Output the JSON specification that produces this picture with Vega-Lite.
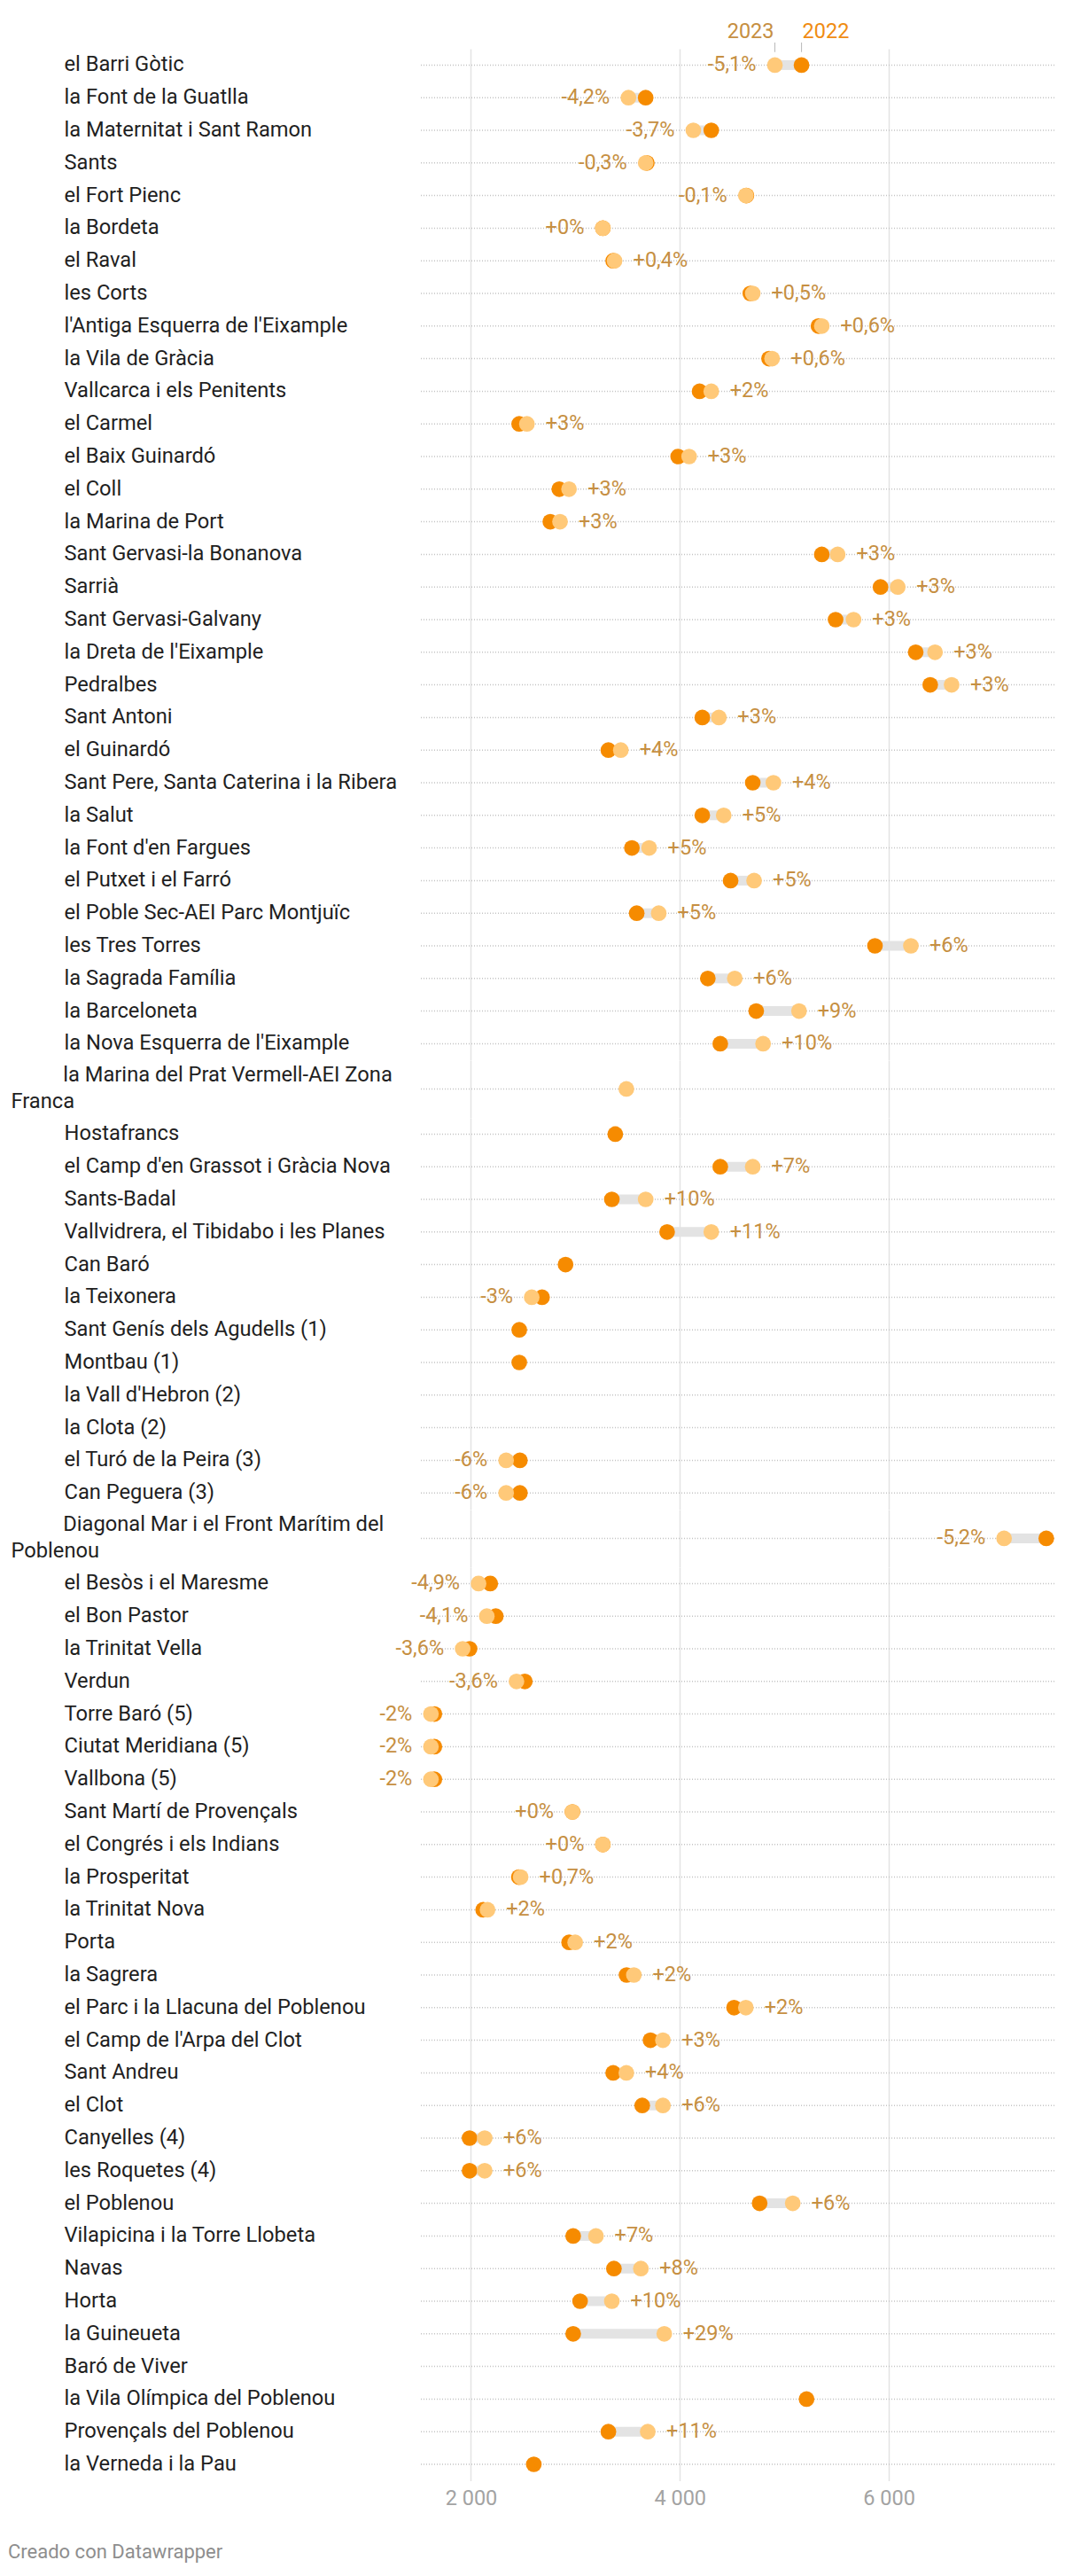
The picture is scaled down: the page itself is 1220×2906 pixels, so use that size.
{
  "$schema": "https://vega.github.io/schema/vega-lite/v6.json",
  "padding": {"left": 9, "top": 24, "right": 24, "bottom": 14},
  "spacing": 0,
  "background": "#ffffff",
  "title": {"text": "Creado con Datawrapper", "orient": "bottom", "anchor": "start", "fontSize": 22, "font": "Roboto", "fontWeight": "normal", "color": "#8e8e8e", "offset": 39, "dx": -3},
  "resolve": {"scale": {"x": "independent", "y": "independent"}},
  "datasets": {
    "A": [
      {"barrio": "el Barri Gòtic", "v2022": 5165, "v2023": 4910, "cambio": "-5,1%"},
      {"barrio": "la Font de la Guatlla", "v2022": 3673, "v2023": 3508, "cambio": "-4,2%"},
      {"barrio": "la Maternitat i Sant Ramon", "v2022": 4301, "v2023": 4129, "cambio": "-3,7%"},
      {"barrio": "Sants", "v2022": 3684, "v2023": 3673, "cambio": "-0,3%"},
      {"barrio": "el Fort Pienc", "v2022": 4637, "v2023": 4632, "cambio": "-0,1%"},
      {"barrio": "la Bordeta", "v2022": 3263, "v2023": 3263, "cambio": "+0%"},
      {"barrio": "el Raval", "v2022": 3362, "v2023": 3375, "cambio": "+0,4%"},
      {"barrio": "les Corts", "v2022": 4675, "v2023": 4698, "cambio": "+0,5%"},
      {"barrio": "l'Antiga Esquerra de l'Eixample", "v2022": 5327, "v2023": 5359, "cambio": "+0,6%"},
      {"barrio": "la Vila de Gràcia", "v2022": 4854, "v2023": 4883, "cambio": "+0,6%"},
      {"barrio": "Vallcarca i els Penitents", "v2022": 4189, "v2023": 4301, "cambio": "+2%"},
      {"barrio": "el Carmel", "v2022": 2462, "v2023": 2536, "cambio": "+3%"},
      {"barrio": "el Baix Guinardó", "v2022": 3984, "v2023": 4089, "cambio": "+3%"},
      {"barrio": "el Coll", "v2022": 2846, "v2023": 2939, "cambio": "+3%"},
      {"barrio": "la Marina de Port", "v2022": 2760, "v2023": 2853, "cambio": "+3%"},
      {"barrio": "Sant Gervasi-la Bonanova", "v2022": 5359, "v2023": 5511, "cambio": "+3%"},
      {"barrio": "Sarrià", "v2022": 5921, "v2023": 6086, "cambio": "+3%"},
      {"barrio": "Sant Gervasi-Galvany", "v2022": 5491, "v2023": 5663, "cambio": "+3%"},
      {"barrio": "la Dreta de l'Eixample", "v2022": 6258, "v2023": 6443, "cambio": "+3%"},
      {"barrio": "Pedralbes", "v2022": 6397, "v2023": 6602, "cambio": "+3%"},
      {"barrio": "Sant Antoni", "v2022": 4215, "v2023": 4374, "cambio": "+3%"},
      {"barrio": "el Guinardó", "v2022": 3316, "v2023": 3435, "cambio": "+4%"},
      {"barrio": "Sant Pere, Santa Caterina i la Ribera", "v2022": 4698, "v2023": 4896, "cambio": "+4%"},
      {"barrio": "la Salut", "v2022": 4215, "v2023": 4420, "cambio": "+5%"},
      {"barrio": "la Font d'en Fargues", "v2022": 3541, "v2023": 3706, "cambio": "+5%"},
      {"barrio": "el Putxet i el Farró", "v2022": 4486, "v2023": 4711, "cambio": "+5%"},
      {"barrio": "el Poble Sec-AEI Parc Montjuïc", "v2022": 3587, "v2023": 3798, "cambio": "+5%"},
      {"barrio": "les Tres Torres", "v2022": 5868, "v2023": 6212, "cambio": "+6%"},
      {"barrio": "la Sagrada Família", "v2022": 4268, "v2023": 4526, "cambio": "+6%"},
      {"barrio": "la Barceloneta", "v2022": 4731, "v2023": 5141, "cambio": "+9%"},
      {"barrio": "la Nova Esquerra de l'Eixample", "v2022": 4387, "v2023": 4797, "cambio": "+10%"}
    ],
    "B": [
      {"barrio": "la Marina del Prat Vermell-AEI Zona Franca", "v2022": null, "v2023": 3488, "cambio": null}
    ],
    "C": [
      {"barrio": "Hostafrancs", "v2022": 3382, "v2023": null, "cambio": null},
      {"barrio": "el Camp d'en Grassot i Gràcia Nova", "v2022": 4387, "v2023": 4698, "cambio": "+7%"},
      {"barrio": "Sants-Badal", "v2022": 3349, "v2023": 3673, "cambio": "+10%"},
      {"barrio": "Vallvidrera, el Tibidabo i les Planes", "v2022": 3878, "v2023": 4301, "cambio": "+11%"},
      {"barrio": "Can Baró", "v2022": 2906, "v2023": null, "cambio": null},
      {"barrio": "la Teixonera", "v2022": 2681, "v2023": 2582, "cambio": "-3%"},
      {"barrio": "Sant Genís dels Agudells (1)", "v2022": 2463, "v2023": null, "cambio": null},
      {"barrio": "Montbau (1)", "v2022": 2463, "v2023": null, "cambio": null},
      {"barrio": "la Vall d'Hebron (2)", "v2022": null, "v2023": null, "cambio": null},
      {"barrio": "la Clota (2)", "v2022": null, "v2023": null, "cambio": null},
      {"barrio": "el Turó de la Peira (3)", "v2022": 2469, "v2023": 2337, "cambio": "-6%"},
      {"barrio": "Can Peguera (3)", "v2022": 2469, "v2023": 2337, "cambio": "-6%"}
    ],
    "D": [
      {"barrio": "Diagonal Mar i el Front Marítim del Poblenou", "v2022": 7508, "v2023": 7104, "cambio": "-5,2%"}
    ],
    "E": [
      {"barrio": "el Besòs i el Maresme", "v2022": 2185, "v2023": 2073, "cambio": "-4,9%"},
      {"barrio": "el Bon Pastor", "v2022": 2238, "v2023": 2152, "cambio": "-4,1%"},
      {"barrio": "la Trinitat Vella", "v2022": 1987, "v2023": 1921, "cambio": "-3,6%"},
      {"barrio": "Verdun", "v2022": 2516, "v2023": 2436, "cambio": "-3,6%"},
      {"barrio": "Torre Baró (5)", "v2022": 1650, "v2023": 1617, "cambio": "-2%"},
      {"barrio": "Ciutat Meridiana (5)", "v2022": 1650, "v2023": 1617, "cambio": "-2%"},
      {"barrio": "Vallbona (5)", "v2022": 1650, "v2023": 1617, "cambio": "-2%"},
      {"barrio": "Sant Martí de Provençals", "v2022": 2972, "v2023": 2972, "cambio": "+0%"},
      {"barrio": "el Congrés i els Indians", "v2022": 3263, "v2023": 3263, "cambio": "+0%"},
      {"barrio": "la Prosperitat", "v2022": 2459, "v2023": 2476, "cambio": "+0,7%"},
      {"barrio": "la Trinitat Nova", "v2022": 2117, "v2023": 2159, "cambio": "+2%"},
      {"barrio": "Porta", "v2022": 2940, "v2023": 2998, "cambio": "+2%"},
      {"barrio": "la Sagrera", "v2022": 3490, "v2023": 3560, "cambio": "+2%"},
      {"barrio": "el Parc i la Llacuna del Poblenou", "v2022": 4519, "v2023": 4632, "cambio": "+2%"},
      {"barrio": "el Camp de l'Arpa del Clot", "v2022": 3719, "v2023": 3838, "cambio": "+3%"},
      {"barrio": "Sant Andreu", "v2022": 3362, "v2023": 3488, "cambio": "+4%"},
      {"barrio": "el Clot", "v2022": 3640, "v2023": 3838, "cambio": "+6%"},
      {"barrio": "Canyelles (4)", "v2022": 1987, "v2023": 2132, "cambio": "+6%"},
      {"barrio": "les Roquetes (4)", "v2022": 1987, "v2023": 2132, "cambio": "+6%"},
      {"barrio": "el Poblenou", "v2022": 4764, "v2023": 5081, "cambio": "+6%"},
      {"barrio": "Vilapicina i la Torre Llobeta", "v2022": 2979, "v2023": 3197, "cambio": "+7%"},
      {"barrio": "Navas", "v2022": 3369, "v2023": 3627, "cambio": "+8%"},
      {"barrio": "Horta", "v2022": 3045, "v2023": 3349, "cambio": "+10%"},
      {"barrio": "la Guineueta", "v2022": 2979, "v2023": 3851, "cambio": "+29%"},
      {"barrio": "Baró de Viver", "v2022": null, "v2023": null, "cambio": null},
      {"barrio": "la Vila Olímpica del Poblenou", "v2022": 5213, "v2023": null, "cambio": null},
      {"barrio": "Provençals del Poblenou", "v2022": 3316, "v2023": 3693, "cambio": "+11%"},
      {"barrio": "la Verneda i la Pau", "v2022": 2602, "v2023": null, "cambio": null}
    ]
  },
  "vconcat": [
    {
      "width": 715, "height": {"step": 36.8},
      "data": {"name": "A"},
      "encoding": {"y": {"field": "barrio", "type": "nominal", "sort": null, "title": null, "scale": {"paddingInner": 0, "paddingOuter": 0}}},
      "layer": [
        {"mark": {"type": "rule", "strokeDash": [1, 2], "color": "#c4c4c4", "strokeWidth": 1.5}, "encoding": {}},
        {"transform": [{"filter": "isValid(datum.v2022) && isValid(datum.v2023)"}], "mark": {"type": "rule", "color": "#e3e3e3", "strokeWidth": 11}, "encoding": {"x": {"field": "v2022", "type": "quantitative", "title": null, "scale": {"domain": [1521, 7586], "nice": false, "zero": false}, "axis": {"values": [2000, 4000, 6000], "labels": false}}, "x2": {"field": "v2023"}}},
        {"mark": {"type": "circle", "size": 314, "opacity": 1, "color": "#f68b00"}, "encoding": {"x": {"field": "v2022", "type": "quantitative"}}},
        {"mark": {"type": "circle", "size": 314, "opacity": 1, "color": "#ffc979"}, "encoding": {"x": {"field": "v2023", "type": "quantitative"}}},
        {"transform": [{"filter": "isValid(datum.cambio) && datum.v2023 <= datum.v2022"}], "mark": {"type": "text", "align": "right", "dx": -21, "fontSize": 23.5, "color": "#c68f42"}, "encoding": {"x": {"field": "v2023", "type": "quantitative"}, "text": {"field": "cambio"}}},
        {"transform": [{"filter": "isValid(datum.cambio) && datum.v2023 > datum.v2022"}], "mark": {"type": "text", "align": "left", "dx": 21, "fontSize": 23.5, "color": "#c68f42"}, "encoding": {"x": {"field": "v2023", "type": "quantitative"}, "text": {"field": "cambio"}}},
        {"transform": [{"filter": {"field": "barrio", "equal": "el Barri Gòtic"}}], "mark": {"type": "text", "align": "right", "baseline": "alphabetic", "dx": -1, "dy": -30, "fontSize": 23.5, "color": "#c68f42"}, "encoding": {"x": {"field": "v2023", "type": "quantitative"}, "text": {"value": "2023"}}},
        {"transform": [{"filter": {"field": "barrio", "equal": "el Barri Gòtic"}}], "mark": {"type": "text", "align": "left", "baseline": "alphabetic", "dx": 1, "dy": -30, "fontSize": 23.5, "color": "#f08c12"}, "encoding": {"x": {"field": "v2022", "type": "quantitative"}, "text": {"value": "2022"}}},
        {"transform": [{"filter": {"field": "barrio", "equal": "el Barri Gòtic"}}], "mark": {"type": "tick", "size": 10.6, "thickness": 1, "color": "#9a9a9a", "yOffset": -20}, "encoding": {"x": {"field": "v2023", "type": "quantitative"}}},
        {"transform": [{"filter": {"field": "barrio", "equal": "el Barri Gòtic"}}], "mark": {"type": "tick", "size": 10.6, "thickness": 1, "color": "#9a9a9a", "yOffset": -20}, "encoding": {"x": {"field": "v2022", "type": "quantitative"}}}
      ]
    },
    {
      "width": 715, "height": 64.8,
      "data": {"name": "B"},
      "encoding": {"y": {"field": "barrio", "type": "nominal", "sort": null, "title": null, "scale": {"paddingInner": 0, "paddingOuter": 0}, "axis": {"labelOffset": -15, "labelPadding": 463, "labelExpr": "['\u200b\u00a0\u00a0\u00a0\u00a0\u00a0\u00a0\u00a0\u00a0\u00a0\u00a0' + slice(datum.value, 0, 35), slice(datum.value, 36)]"}}},
      "layer": [
        {"mark": {"type": "rule", "strokeDash": [1, 2], "color": "#c4c4c4", "strokeWidth": 1.5}, "encoding": {}},
        {"mark": {"type": "circle", "size": 314, "opacity": 1, "color": "#f68b00"}, "encoding": {"x": {"field": "v2022", "type": "quantitative", "title": null, "scale": {"domain": [1521, 7586], "nice": false, "zero": false}, "axis": {"values": [2000, 4000, 6000], "labels": false}}}},
        {"mark": {"type": "circle", "size": 314, "opacity": 1, "color": "#ffc979"}, "encoding": {"x": {"field": "v2023", "type": "quantitative"}}}
      ]
    },
    {
      "width": 715, "height": {"step": 36.8},
      "data": {"name": "C"},
      "encoding": {"y": {"field": "barrio", "type": "nominal", "sort": null, "title": null, "scale": {"paddingInner": 0, "paddingOuter": 0}}},
      "layer": [
        {"mark": {"type": "rule", "strokeDash": [1, 2], "color": "#c4c4c4", "strokeWidth": 1.5}, "encoding": {}},
        {"transform": [{"filter": "isValid(datum.v2022) && isValid(datum.v2023)"}], "mark": {"type": "rule", "color": "#e3e3e3", "strokeWidth": 11}, "encoding": {"x": {"field": "v2022", "type": "quantitative", "title": null, "scale": {"domain": [1521, 7586], "nice": false, "zero": false}, "axis": {"values": [2000, 4000, 6000], "labels": false}}, "x2": {"field": "v2023"}}},
        {"mark": {"type": "circle", "size": 314, "opacity": 1, "color": "#f68b00"}, "encoding": {"x": {"field": "v2022", "type": "quantitative"}}},
        {"mark": {"type": "circle", "size": 314, "opacity": 1, "color": "#ffc979"}, "encoding": {"x": {"field": "v2023", "type": "quantitative"}}},
        {"transform": [{"filter": "isValid(datum.cambio) && datum.v2023 <= datum.v2022"}], "mark": {"type": "text", "align": "right", "dx": -21, "fontSize": 23.5, "color": "#c68f42"}, "encoding": {"x": {"field": "v2023", "type": "quantitative"}, "text": {"field": "cambio"}}},
        {"transform": [{"filter": "isValid(datum.cambio) && datum.v2023 > datum.v2022"}], "mark": {"type": "text", "align": "left", "dx": 21, "fontSize": 23.5, "color": "#c68f42"}, "encoding": {"x": {"field": "v2023", "type": "quantitative"}, "text": {"field": "cambio"}}}
      ]
    },
    {
      "width": 715, "height": 64.8,
      "data": {"name": "D"},
      "encoding": {"y": {"field": "barrio", "type": "nominal", "sort": null, "title": null, "scale": {"paddingInner": 0, "paddingOuter": 0}, "axis": {"labelOffset": -15, "labelPadding": 463, "labelExpr": "['\u200b\u00a0\u00a0\u00a0\u00a0\u00a0\u00a0\u00a0\u00a0\u00a0\u00a0' + slice(datum.value, 0, 35), slice(datum.value, 36)]"}}},
      "layer": [
        {"mark": {"type": "rule", "strokeDash": [1, 2], "color": "#c4c4c4", "strokeWidth": 1.5}, "encoding": {}},
        {"transform": [{"filter": "isValid(datum.v2022) && isValid(datum.v2023)"}], "mark": {"type": "rule", "color": "#e3e3e3", "strokeWidth": 11}, "encoding": {"x": {"field": "v2022", "type": "quantitative", "title": null, "scale": {"domain": [1521, 7586], "nice": false, "zero": false}, "axis": {"values": [2000, 4000, 6000], "labels": false}}, "x2": {"field": "v2023"}}},
        {"mark": {"type": "circle", "size": 314, "opacity": 1, "color": "#f68b00"}, "encoding": {"x": {"field": "v2022", "type": "quantitative"}}},
        {"mark": {"type": "circle", "size": 314, "opacity": 1, "color": "#ffc979"}, "encoding": {"x": {"field": "v2023", "type": "quantitative"}}},
        {"transform": [{"filter": "isValid(datum.cambio) && datum.v2023 <= datum.v2022"}], "mark": {"type": "text", "align": "right", "dx": -21, "fontSize": 23.5, "color": "#c68f42"}, "encoding": {"x": {"field": "v2023", "type": "quantitative"}, "text": {"field": "cambio"}}}
      ]
    },
    {
      "width": 715, "height": {"step": 36.8},
      "data": {"name": "E"},
      "encoding": {"y": {"field": "barrio", "type": "nominal", "sort": null, "title": null, "scale": {"paddingInner": 0, "paddingOuter": 0}}},
      "layer": [
        {"mark": {"type": "rule", "strokeDash": [1, 2], "color": "#c4c4c4", "strokeWidth": 1.5}, "encoding": {}},
        {"transform": [{"filter": "isValid(datum.v2022) && isValid(datum.v2023)"}], "mark": {"type": "rule", "color": "#e3e3e3", "strokeWidth": 11}, "encoding": {"x": {"field": "v2022", "type": "quantitative", "title": null, "scale": {"domain": [1521, 7586], "nice": false, "zero": false}, "axis": {"values": [2000, 4000, 6000], "labels": true, "labelFontSize": 23.5, "labelColor": "#a3a3a3", "labelPadding": 8, "labelExpr": "replace(format(datum.value, ','), ',', ' ')"}}, "x2": {"field": "v2023"}}},
        {"mark": {"type": "circle", "size": 314, "opacity": 1, "color": "#f68b00"}, "encoding": {"x": {"field": "v2022", "type": "quantitative"}}},
        {"mark": {"type": "circle", "size": 314, "opacity": 1, "color": "#ffc979"}, "encoding": {"x": {"field": "v2023", "type": "quantitative"}}},
        {"transform": [{"filter": "isValid(datum.cambio) && datum.v2023 <= datum.v2022"}], "mark": {"type": "text", "align": "right", "dx": -21, "fontSize": 23.5, "color": "#c68f42"}, "encoding": {"x": {"field": "v2023", "type": "quantitative"}, "text": {"field": "cambio"}}},
        {"transform": [{"filter": "isValid(datum.cambio) && datum.v2023 > datum.v2022"}], "mark": {"type": "text", "align": "left", "dx": 21, "fontSize": 23.5, "color": "#c68f42"}, "encoding": {"x": {"field": "v2023", "type": "quantitative"}, "text": {"field": "cambio"}}}
      ]
    }
  ],
  "config": {
    "font": "Roboto",
    "view": {"stroke": null},
    "concat": {"spacing": 0},
    "text": {"font": "Roboto"},
    "axisX": {"grid": true, "gridColor": "#e3e3e3", "gridWidth": 1.5, "domain": false, "ticks": false, "labelFont": "Roboto"},
    "axisY": {"grid": false, "domain": false, "ticks": false, "labelAlign": "left", "labelPadding": 403, "labelFontSize": 23.7, "labelColor": "#1f1f1f", "labelFont": "Roboto", "labelLimit": 0, "labelLineHeight": 30}
  }
}
